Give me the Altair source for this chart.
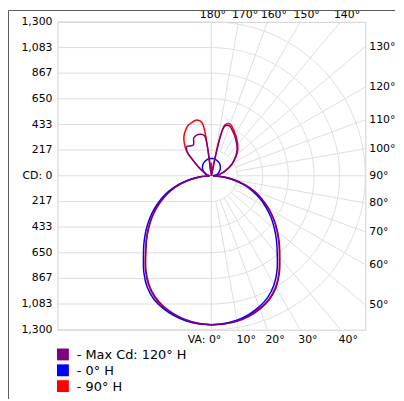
import altair as alt
import pandas as pd

# ---------------- data (candela) ----------------
angles = list(range(0, 185, 5))  # vertical angle VA, 0 = straight down

# right half (H) and left half (H+180) of each plane, values at angles 0..180
max_right = [1258, 1257, 1248, 1228, 1198, 1156, 1091, 1001, 899, 812, 728, 646, 562, 476, 390, 295, 194, 97, 15,
             40, 70, 100, 125, 162, 200, 235, 272, 306, 335, 362, 392, 420, 448, 435, 8, 5, 10]
max_left = [1258, 1250, 1235, 1210, 1175, 1127, 1057, 965, 862, 775, 692, 612, 529, 447, 362, 272, 178, 89, 15,
            20, 30, 40, 50, 65, 95, 140, 200, 292, 322, 308, 303, 352, 366, 364, 345, 5, 10]
h0_right = [1258, 1252, 1238, 1213, 1178, 1130, 1060, 968, 865, 778, 695, 615, 532, 450, 365, 275, 180, 90, 15,
            30, 40, 50, 59, 69, 79, 89, 98, 107, 115, 122, 128, 133, 138, 142, 145, 146, 147]
h0_left = [1258, 1254, 1243, 1222, 1192, 1150, 1085, 995, 893, 806, 722, 640, 556, 470, 385, 290, 190, 95, 15,
           30, 40, 50, 59, 69, 79, 89, 98, 107, 115, 122, 128, 133, 138, 142, 145, 146, 147]
h90_right = [1258, 1254, 1243, 1222, 1192, 1150, 1085, 995, 893, 806, 722, 640, 556, 470, 385, 290, 190, 95, 15,
             40, 70, 100, 125, 165, 205, 240, 280, 316, 345, 375, 405, 435, 465, 445, 8, 5, 110]
h90_left = [1258, 1254, 1241, 1216, 1181, 1133, 1063, 971, 868, 781, 698, 618, 535, 453, 368, 278, 182, 91, 15,
            20, 30, 40, 50, 65, 95, 140, 200, 298, 355, 405, 440, 468, 480, 488, 455, 5, 110]

series_names = ["Max Cd: 120° H", "0° H", "90° H"]
series_colors = ["#800080", "#0000ff", "#ff0000"]
draw_order = ["90° H", "0° H", "Max Cd: 120° H"]

cd_max = 1300
cd_ticks = [217, 433, 650, 867, 1083, 1300]
cd_tick_labels = ["217", "433", "650", "867", "1,083", "1,300"]
grid_angles = list(range(0, 181, 10))
top_angles = [180, 170, 160, 150, 140]
right_angles = [130, 120, 110, 100, 90, 80, 70, 60, 50]
bottom_angles = [0, 10, 20, 30, 40]

# ---------------- tables ----------------
rows = []
for name, right, left in [(series_names[0], max_right, max_left),
                          (series_names[1], h0_right, h0_left),
                          (series_names[2], h90_right, h90_left)]:
    i = 0
    for a, v in zip(angles, right):
        rows.append(dict(series=name, i=i, va=a, cd=v, side=1))
        i += 1
    for a, v in zip(angles[::-1], left[::-1]):
        rows.append(dict(series=name, i=i, va=a, cd=v, side=-1))
        i += 1
series_df = pd.DataFrame(rows)

ylab_df = pd.DataFrame({
    "y": [t for t in cd_ticks[::-1]] + [0] + [-t for t in cd_ticks],
    "lab": cd_tick_labels[::-1] + ["CD: 0"] + cd_tick_labels,
})
hgrid_df = pd.DataFrame({"y": [0] + cd_ticks + [-t for t in cd_ticks]})
arc_df = pd.DataFrame([dict(r=r, deg=d) for r in cd_ticks for d in range(0, 181, 2)])
rad_df = pd.DataFrame({"a": grid_angles})
top_df = pd.DataFrame({"a": top_angles})
right_df = pd.DataFrame({"a": right_angles})
bottom_df = pd.DataFrame({"a": bottom_angles})
legend_df = pd.DataFrame({"name": series_names, "color": series_colors, "row": list(range(len(series_names)))})

FONT = "DejaVu Sans"
GRID = "#dedede"
R = cd_max
xs = alt.Scale(domain=[-R, R], nice=False, zero=False)
ys = alt.Scale(domain=[-R, R], nice=False, zero=False)
NOX = alt.X("x:Q", scale=xs, axis=None)
NOY = alt.Y("y:Q", scale=ys, axis=None)

hgrid = alt.Chart(hgrid_df).mark_rule(color=GRID, strokeWidth=1).transform_calculate(
    x0=f"{-R}", x1="0"
).encode(x=alt.X("x0:Q", scale=xs, axis=None), x2="x1:Q", y=NOY)

arcs = alt.Chart(arc_df).mark_line(color=GRID, strokeWidth=1).transform_calculate(
    x="datum.r * sin(datum.deg * PI / 180)",
    y="-datum.r * cos(datum.deg * PI / 180)",
).encode(x=NOX, y=NOY, detail="r:N", order="deg:Q")

radials = alt.Chart(rad_df).mark_rule(color=GRID, strokeWidth=1).transform_calculate(
    s="sin(datum.a * PI / 180)",
    c="-cos(datum.a * PI / 180)",
    t=f"{R} / max(abs(sin(datum.a * PI / 180)), abs(cos(datum.a * PI / 180)))",
    r0=f"(datum.a == 0 || datum.a == 180) ? 0 : {cd_ticks[0]}",
).transform_calculate(
    x="datum.r0 * datum.s", y="datum.r0 * datum.c",
    xe="datum.t * datum.s", ye="datum.t * datum.c",
).encode(x=NOX, y=NOY, x2="xe:Q", y2="ye:Q")

color = alt.Color("series:N", scale=alt.Scale(domain=series_names, range=series_colors), legend=None)

series_layers = []
for name in draw_order:
    series_layers.append(
        alt.Chart(series_df).transform_filter(alt.datum.series == name).transform_calculate(
            x="datum.side * datum.cd * sin(datum.va * PI / 180)",
            y="-datum.cd * cos(datum.va * PI / 180)",
        ).mark_line(strokeWidth=1.5, interpolate="catmull-rom").encode(
            x=NOX, y=NOY, order="i:Q", color=color)
    )

txt = dict(font=FONT, fontSize=11, color="#000", baseline="middle")

ylabels = alt.Chart(ylab_df).transform_calculate(x=f"{-R}").mark_text(
    align="right", dx=-5, **txt).encode(x=NOX, y=NOY, text="lab:N")

top180 = alt.Chart(top_df).transform_filter("datum.a == 180").transform_calculate(
    x=f"{R} * tan((180 - datum.a) * PI / 180)", y=f"{R}", lab="datum.a + '°'"
).mark_text(align="center", dx=1.5, dy=-7, **txt).encode(x=NOX, y=NOY, text="lab:N")

top_other = alt.Chart(top_df).transform_filter("datum.a != 180").transform_calculate(
    x=f"{R} * tan((180 - datum.a) * PI / 180)", y=f"{R}", lab="datum.a + '°'"
).mark_text(align="center", dx=6.5, dy=-7, **txt).encode(x=NOX, y=NOY, text="lab:N")

right_lab = alt.Chart(right_df).transform_calculate(
    x=f"{R}", y=f"-{R} * cos(datum.a * PI / 180) / sin(datum.a * PI / 180)", lab="datum.a + '°'"
).mark_text(align="left", dx=4, **txt).encode(x=NOX, y=NOY, text="lab:N")

bottom0 = alt.Chart(bottom_df).transform_filter("datum.a == 0").transform_calculate(
    x=f"{R} * tan(datum.a * PI / 180)", y=f"-{R}", lab="'VA: ' + datum.a + '°'"
).mark_text(align="right", dx=10, dy=10.5, **txt).encode(x=NOX, y=NOY, text="lab:N")

bottom_other = alt.Chart(bottom_df).transform_filter("datum.a != 0").transform_calculate(
    x=f"{R} * tan(datum.a * PI / 180)", y=f"-{R}", lab="datum.a + '°'"
).mark_text(align="left", dx=-2, dy=10.5, **txt).encode(x=NOX, y=NOY, text="lab:N")

# legend (drawn as a layer: squares + labels below the plot)
leg_sq = alt.Chart(legend_df).transform_calculate(
    px="5.5", py="336 + datum.row * 16"
).mark_square(size=144, opacity=1, filled=True).encode(
    x=alt.X("px:Q", scale=None, axis=None), y=alt.Y("py:Q", scale=None, axis=None),
    color=alt.Color("color:N", scale=None))
leg_tx = alt.Chart(legend_df).transform_calculate(
    px="19.5", py="336.5 + datum.row * 16", lab="'- ' + datum.name"
).mark_text(align="left", baseline="middle", font=FONT, fontSize=13, color="#000").encode(
    x=alt.X("px:Q", scale=None, axis=None), y=alt.Y("py:Q", scale=None, axis=None), text="lab:N")

one = pd.DataFrame({"k": [0]})
frame_left = alt.Chart(one).mark_rule(color="#5a5a5a", strokeWidth=1).encode(
    x=alt.value(-49.5), y=alt.value(-11.5), y2=alt.value(381))
frame_top = alt.Chart(one).mark_rule(color="#5a5a5a", strokeWidth=1).encode(
    x=alt.value(-49.5), x2=alt.value(341), y=alt.value(-11.5))

chart = alt.layer(
    hgrid, arcs, radials, *series_layers, ylabels,
    top180, top_other, right_lab, bottom0, bottom_other, leg_sq, leg_tx, frame_left, frame_top,
).properties(
    width=311, height=311,
    autosize=alt.AutoSizeParams(type="none"),
    padding={"left": 50, "top": 12, "right": 31, "bottom": 70},
    background="white",
).configure_view(stroke="#cfcfcf", strokeWidth=1)

chart.save("out.html", embed_options={"renderer": "svg", "actions": False})
